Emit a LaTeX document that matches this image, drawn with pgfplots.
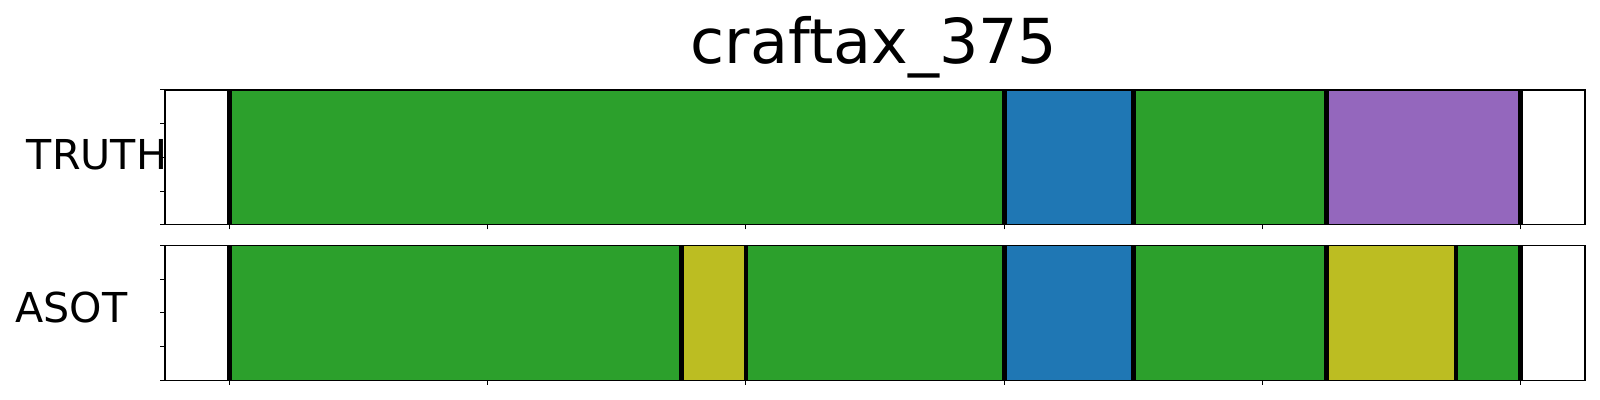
\documentclass[border=0pt]{standalone}
\usepackage{pgfplots}
\pgfplotsset{compat=1.18}
\usepackage{fontspec}
\setmainfont{DejaVu Sans}
\definecolor{cgreen}{HTML}{2CA02C}
\definecolor{cblue}{HTML}{1F77B4}
\definecolor{cpurple}{HTML}{9467BD}
\definecolor{colive}{HTML}{BCBD22}
\pgfplotsset{
  segaxis/.style={
    scale only axis, width=710pt, height=67.4pt,
    xmin=-25, xmax=525, ymin=0, ymax=1,
    xtick={0,100,200,300,400,500}, xticklabels={},
    ytick={0,0.25,0.5,0.75,1}, yticklabels={},
    xtick pos=bottom, ytick pos=left,
    tick align=outside, major tick length=2.3pt,
    tick style={black, line width=0.5pt},
    axis line style={black, line width=0.6pt},
    axis on top,
    clip=false,
  },
  seg/.style={const plot, draw=none, fill=#1},
  bd/.style={black, line width=2.4pt},
}
\begin{document}
\begin{tikzpicture}
\useasboundingbox (0,0) rectangle (800pt,200pt);
% top axis: TRUTH
\begin{axis}[segaxis, at={(82.5pt,87.6pt)}, anchor=south west]
\addplot[seg=cgreen] coordinates {(0,1) (300,1)} \closedcycle;
\addplot[seg=cblue] coordinates {(300,1) (350,1)} \closedcycle;
\addplot[seg=cgreen] coordinates {(350,1) (425,1)} \closedcycle;
\addplot[seg=cpurple] coordinates {(425,1) (500,1)} \closedcycle;
\addplot[bd] coordinates {(0,0) (0,1)};
\addplot[bd] coordinates {(300,0) (300,1)};
\addplot[bd] coordinates {(350,0) (350,1)};
\addplot[bd] coordinates {(425,0) (425,1)};
\addplot[bd] coordinates {(500,0) (500,1)};
\end{axis}
% bottom axis: ASOT
\begin{axis}[segaxis, at={(82.5pt,9.85pt)}, anchor=south west]
\addplot[seg=cgreen] coordinates {(0,1) (175,1)} \closedcycle;
\addplot[seg=colive] coordinates {(175,1) (200,1)} \closedcycle;
\addplot[seg=cgreen] coordinates {(200,1) (300,1)} \closedcycle;
\addplot[seg=cblue] coordinates {(300,1) (350,1)} \closedcycle;
\addplot[seg=cgreen] coordinates {(350,1) (425,1)} \closedcycle;
\addplot[seg=colive] coordinates {(425,1) (475,1)} \closedcycle;
\addplot[seg=cgreen] coordinates {(475,1) (500,1)} \closedcycle;
\addplot[bd] coordinates {(0,0) (0,1)};
\addplot[bd] coordinates {(175,0) (175,1)};
\addplot[bd] coordinates {(200,0) (200,1)};
\addplot[bd] coordinates {(300,0) (300,1)};
\addplot[bd] coordinates {(350,0) (350,1)};
\addplot[bd] coordinates {(425,0) (425,1)};
\addplot[bd] coordinates {(475,0) (475,1)};
\addplot[bd] coordinates {(500,0) (500,1)};
\end{axis}
\node[anchor=base, font=\fontsize{31pt}{36pt}\selectfont, inner sep=0pt] at (437pt,168.4pt) {craftax\_375};
\node[anchor=base, font=\fontsize{20.6pt}{24pt}\selectfont, inner sep=0pt] at (48.5pt,115.3pt) {TRUTH};
\node[anchor=base, font=\fontsize{20.6pt}{24pt}\selectfont, inner sep=0pt] at (35.6pt,38.6pt) {ASOT};
\end{tikzpicture}
\end{document}
